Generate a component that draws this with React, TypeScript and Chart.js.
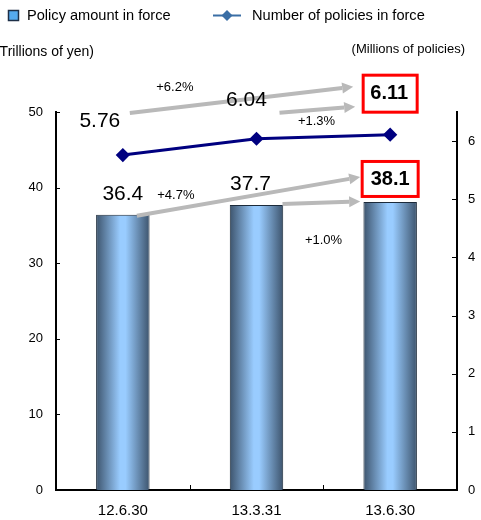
import React, { useEffect, useRef } from "react";
import { Chart, registerables } from "chart.js";

Chart.register(...registerables);

const categories = ["12.6.30", "13.3.31", "13.6.30"];
const policyAmount = [36.4, 37.7, 38.1]; // trillions of yen
const policyCount = [5.76, 6.04, 6.11]; // millions of policies
const amountLabels = ["36.4", "37.7", "38.1"];
const countLabels = ["5.76", "6.04", "6.11"];
const growthLabels = ["+6.2%", "+1.3%", "+4.7%", "+1.0%"];
const leftTicks = [0, 10, 20, 30, 40, 50];
const rightTicks = [0, 1, 2, 3, 4, 5, 6];

const FONT = "'Liberation Sans', Arial, sans-serif";

function drawArrow(ctx: CanvasRenderingContext2D, x0: number, y0: number, x1: number, y1: number) {
  const ang = Math.atan2(y1 - y0, x1 - x0);
  const head = 11;
  const hw = 5.5;
  const bx = x1 - head * Math.cos(ang);
  const by = y1 - head * Math.sin(ang);
  ctx.save();
  ctx.strokeStyle = "#b9b9b9";
  ctx.fillStyle = "#b9b9b9";
  ctx.lineWidth = 4;
  ctx.lineCap = "butt";
  ctx.beginPath();
  ctx.moveTo(x0, y0);
  ctx.lineTo(bx, by);
  ctx.stroke();
  ctx.beginPath();
  ctx.moveTo(x1, y1);
  ctx.lineTo(bx + hw * Math.sin(ang), by - hw * Math.cos(ang));
  ctx.lineTo(bx - hw * Math.sin(ang), by + hw * Math.cos(ang));
  ctx.closePath();
  ctx.fill();
  ctx.restore();
}

function text(ctx: CanvasRenderingContext2D, s: string, x: number, y: number, size: number, bold = false, align: CanvasTextAlign = "center") {
  ctx.save();
  ctx.font = `${bold ? "bold " : ""}${size}px ${FONT}`;
  ctx.fillStyle = "#000";
  ctx.textAlign = align;
  ctx.textBaseline = "middle";
  ctx.fillText(s, x, y);
  ctx.restore();
}

function redBox(ctx: CanvasRenderingContext2D, cx: number, cy: number, w: number, h: number) {
  ctx.save();
  ctx.fillStyle = "#fff";
  ctx.fillRect(cx - w / 2, cy - h / 2, w, h);
  ctx.strokeStyle = "#ff0000";
  ctx.lineWidth = 3;
  ctx.strokeRect(cx - w / 2, cy - h / 2, w, h);
  ctx.restore();
}

const annotations = {
  id: "annotations",
  afterDatasetsDraw(chart: any) {
    const ctx: CanvasRenderingContext2D = chart.ctx;
    const x = chart.scales.x;
    const yL = chart.scales.y;
    const yR = chart.scales.y1;
    const xs = categories.map((_, i) => x.getPixelForValue(i));
    const { left, right, bottom, top } = chart.chartArea;

    // inner tick marks
    ctx.save();
    ctx.strokeStyle = "#000";
    ctx.lineWidth = 1;
    leftTicks.forEach((v) => {
      const py = Math.round(yL.getPixelForValue(v)) + 0.5;
      ctx.beginPath();
      ctx.moveTo(left, py);
      ctx.lineTo(left + 4, py);
      ctx.stroke();
    });
    rightTicks.forEach((v) => {
      const py = Math.round(yR.getPixelForValue(v)) + 0.5;
      ctx.beginPath();
      ctx.moveTo(right - 5, py);
      ctx.lineTo(right, py);
      ctx.stroke();
    });
    for (let i = 0; i < categories.length - 1; i++) {
      const px = Math.round((xs[i] + xs[i + 1]) / 2) + 0.5;
      ctx.beginPath();
      ctx.moveTo(px, bottom);
      ctx.lineTo(px, bottom - 5);
      ctx.stroke();
    }
    ctx.restore();

    // growth arrows
    const c0 = yR.getPixelForValue(policyCount[0]);
    const c1 = yR.getPixelForValue(policyCount[1]);
    const c2 = yR.getPixelForValue(policyCount[2]);
    const a0 = yL.getPixelForValue(policyAmount[0]);
    const a1 = yL.getPixelForValue(policyAmount[1]);
    const a2 = yL.getPixelForValue(policyAmount[2]);
    drawArrow(ctx, xs[0] + 7, c0 - 42, xs[2] - 37, c2 - 48);
    drawArrow(ctx, xs[1] + 23, c1 - 26, xs[2] - 35, c2 - 28);
    drawArrow(ctx, xs[0] + 14, a0 + 1, xs[2] - 30, a2 - 25);
    drawArrow(ctx, xs[1] + 26, a1 - 1, xs[2] - 30, a2 - 0.5);

    // value labels
    text(ctx, countLabels[0], xs[0] - 23, c0 - 34, 21);
    text(ctx, countLabels[1], xs[1] - 10, c1 - 39, 21);
    redBox(ctx, xs[2] - 0, c2 - 41, 54, 37);
    text(ctx, countLabels[2], xs[2] - 1, c2 - 41, 20, true);

    text(ctx, amountLabels[0], xs[0], a0 - 21, 21);
    text(ctx, amountLabels[1], xs[1] - 6, a1 - 21, 21);
    redBox(ctx, xs[2] - 0, a2 - 23, 56, 35);
    text(ctx, amountLabels[2], xs[2], a2 - 22, 20, true);

    text(ctx, growthLabels[0], xs[0] + 52, c0 - 68, 13);
    text(ctx, growthLabels[1], xs[1] + 60, c1 - 17, 13);
    text(ctx, growthLabels[2], xs[0] + 53, a0 - 19, 13);
    text(ctx, growthLabels[3], xs[1] + 67, a1 + 35, 13);

    // axis titles
    text(ctx, "(Trillions of yen)", left + 38, top - 60, 14, false, "right");
    text(ctx, "(Millions of policies)", right + 8, top - 63, 13, false, "right");

    // legend
    ctx.save();
    ctx.fillStyle = "#55aaee";
    ctx.fillRect(8, 10, 11, 11);
    ctx.strokeStyle = "#1d2f47";
    ctx.lineWidth = 1.5;
    ctx.strokeRect(8.5, 10.5, 10, 10);
    ctx.strokeStyle = "#3a6ea5";
    ctx.lineWidth = 2;
    ctx.beginPath();
    ctx.moveTo(213, 15.5);
    ctx.lineTo(241, 15.5);
    ctx.stroke();
    ctx.fillStyle = "#3a6ea5";
    ctx.beginPath();
    ctx.moveTo(227, 10);
    ctx.lineTo(232.5, 15.5);
    ctx.lineTo(227, 21);
    ctx.lineTo(221.5, 15.5);
    ctx.closePath();
    ctx.fill();
    ctx.restore();
    text(ctx, "Policy amount in force", 27, 16, 14.6, false, "left");
    text(ctx, "Number of policies in force", 252, 16, 14.6, false, "left");
  },
};

export default function App() {
  const ref = useRef<HTMLCanvasElement | null>(null);

  useEffect(() => {
    document.body.style.margin = "0";
    const canvas = ref.current;
    if (!canvas) return;

    const barFill = (c: any) => {
      const chart = c.chart;
      const area = chart.chartArea;
      if (!area || c.dataIndex === undefined) return "#99ccff";
      const px = chart.scales.x.getPixelForValue(c.dataIndex);
      const half = (area.width / categories.length) * 0.4 / 2;
      const g = chart.ctx.createLinearGradient(px - half, 0, px + half, 0);
      g.addColorStop(0, "#3d546d");
      g.addColorStop(0.45, "#99ccff");
      g.addColorStop(0.55, "#99ccff");
      g.addColorStop(1, "#3d546d");
      return g;
    };

    const chart = new Chart(canvas, {
      type: "bar",
      data: {
        labels: categories,
        datasets: [
          {
            type: "line",
            label: "Number of policies in force",
            data: policyCount,
            yAxisID: "y1",
            borderColor: "#000080",
            backgroundColor: "#000080",
            borderWidth: 3,
            pointStyle: "rectRot",
            pointRadius: 5,
            pointBackgroundColor: "#000080",
            pointBorderColor: "#000080",
            order: 0,
          } as any,
          {
            type: "bar",
            label: "Policy amount in force",
            data: policyAmount,
            yAxisID: "y",
            backgroundColor: barFill,
            borderColor: "#1b2a3a",
            borderWidth: 1,
            barPercentage: 0.4,
            categoryPercentage: 1,
            order: 1,
          },
        ],
      },
      options: {
        responsive: false,
        animation: false,
        devicePixelRatio: 1,
        layout: { padding: { top: 112, left: 0, right: 0, bottom: 0 } },
        plugins: { legend: { display: false }, tooltip: { enabled: false } },
        scales: {
          x: {
            grid: { display: false, drawTicks: false },
            border: { display: true, color: "#000", width: 2 },
            ticks: { color: "#000", font: { size: 15, family: FONT }, padding: 12 },
            afterFit: (s: any) => {
              s.height = 30;
            },
          },
          y: {
            position: "left",
            min: 0,
            max: 50,
            ticks: { stepSize: 10, color: "#000", font: { size: 13, family: FONT }, padding: 13 },
            grid: { display: false, drawTicks: false },
            border: { display: true, color: "#000", width: 2 },
            afterFit: (s: any) => {
              s.width = 56;
            },
          },
          y1: {
            position: "right",
            min: 0,
            max: 6.5,
            ticks: {
              stepSize: 1,
              color: "#000",
              font: { size: 13, family: FONT },
              padding: 11,
              callback: (v: any) => (Number.isInteger(v) ? String(v) : ""),
            },
            grid: { display: false, drawTicks: false },
            border: { display: true, color: "#000", width: 2 },
            afterFit: (s: any) => {
              s.width = 24;
            },
          },
        },
      },
      plugins: [annotations],
    });

    return () => chart.destroy();
  }, []);

  return (
    <div style={{ position: "absolute", left: 0, top: 0, width: 481, height: 520, background: "#fff" }}>
      <canvas ref={ref} width={481} height={520} />
    </div>
  );
}
